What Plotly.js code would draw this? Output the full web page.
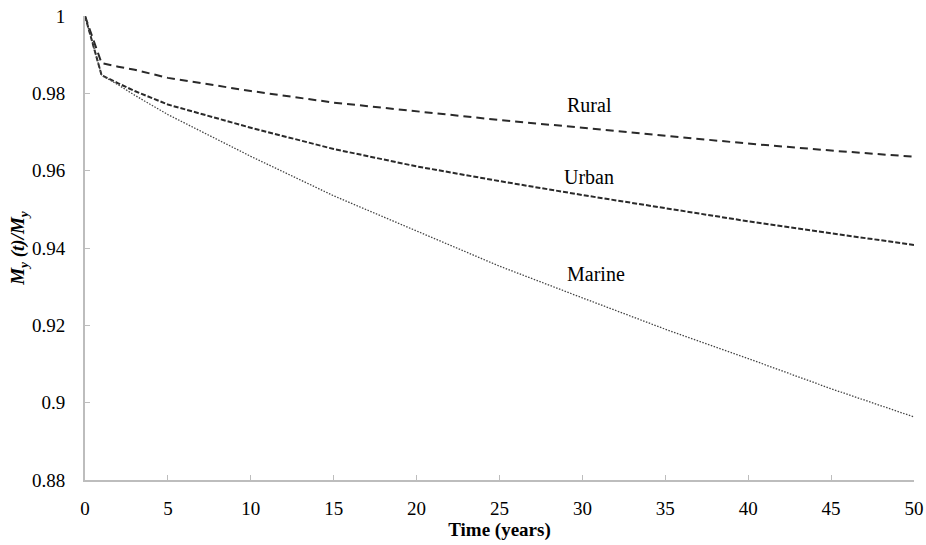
<!DOCTYPE html>
<html>
<head>
<meta charset="utf-8">
<script src="https://cdn.plot.ly/plotly-3.0.1.min.js"></script>
<style>html,body{margin:0;padding:0;background:#fff;}#chart{width:926px;height:545px;}</style>
</head>
<body>
<div id="chart"></div>
<script>
const years = [0, 1, 2, 3, 5, 10, 15, 20, 25, 30, 35, 40, 45, 50];
const rural = [1, 0.9878, 0.9869, 0.9861, 0.9840, 0.9806, 0.9776, 0.9754, 0.9731, 0.9711, 0.9690, 0.9670, 0.9652, 0.9636];
const urban = [1, 0.9847, 0.9826, 0.9806, 0.9771, 0.9711, 0.9656, 0.9611, 0.9573, 0.9537, 0.9503, 0.9469, 0.9438, 0.9408];
const marine = [1, 0.9847, 0.9822, 0.9795, 0.9745, 0.9637, 0.9535, 0.9443, 0.9353, 0.9271, 0.9190, 0.9114, 0.9036, 0.8963];
const seriesNames = ["Rural", "Urban", "Marine"];
const labelX = [30.4, 30.4, 30.8];
const labelY = [0.9769, 0.9583, 0.9334];
const xTicks = [0, 5, 10, 15, 20, 25, 30, 35, 40, 45, 50];
const yTicks = [0.88, 0.9, 0.92, 0.94, 0.96, 0.98, 1];
const yTickText = ["0.88", "0.9", "0.92", "0.94", "0.96", "0.98", "1"];

const serif = "'Liberation Serif', 'Times New Roman', serif";
const traces = [
  {x: years, y: rural, mode: "lines", name: seriesNames[0], line: {color: "#2a2a2a", width: 2, dash: "8px,5px"}},
  {x: years, y: urban, mode: "lines", name: seriesNames[1], line: {color: "#2a2a2a", width: 2, dash: "5px,2px"}},
  {x: years, y: marine, mode: "lines", name: seriesNames[2], line: {color: "#444", width: 1.3, dash: "1.5px,1.5px"}}
];
const annotations = seriesNames.map((n, i) => ({
  x: labelX[i], y: labelY[i], xref: "x", yref: "y", text: n, showarrow: false,
  font: {family: serif, size: 20, color: "#000"}
}));
const layout = {
  width: 926, height: 545,
  margin: {l: 85, r: 12, t: 16, b: 65},
  paper_bgcolor: "#fff", plot_bgcolor: "#fff",
  showlegend: false,
  font: {family: serif, size: 19, color: "#000"},
  xaxis: {
    range: [0, 50], tickvals: xTicks, ticktext: xTicks.map(String),
    showgrid: false, zeroline: false, showline: true, linecolor: "#bdbdbd", linewidth: 2,
    ticks: "inside", ticklen: 5, tickcolor: "#bdbdbd", tickwidth: 1,
    ticklabelstandoff: 10,
    tickfont: {family: serif, size: 19, color: "#000"},
    title: {text: "<b>Time (years)</b>", font: {family: serif, size: 19, color: "#000"}, standoff: 4}
  },
  yaxis: {
    range: [0.88, 1], tickvals: yTicks, ticktext: yTickText,
    showgrid: false, zeroline: false, showline: true, linecolor: "#bdbdbd", linewidth: 2,
    ticks: "inside", ticklen: 5, tickcolor: "#bdbdbd", tickwidth: 1,
    ticklabelstandoff: 14,
    tickfont: {family: serif, size: 19, color: "#000"},
    title: {text: "<b><i>M<sub>y</sub> (t)/M<sub>y</sub></i></b>", font: {family: serif, size: 19, color: "#000"}, standoff: 2}
  },
  annotations: annotations
};
Plotly.newPlot("chart", traces, layout, {staticPlot: true, displayModeBar: false});
</script>
</body>
</html>
